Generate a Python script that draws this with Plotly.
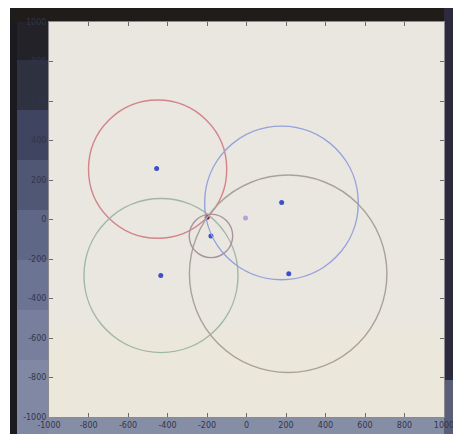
import numpy as np
import plotly.graph_objects as go

# Circle data (center x, center y, radius)
circle_names = ["red", "green", "blue", "large", "small"]
center_x = [-450, -433, 177, 211, -180]
center_y = [255, -284, 84, -275, -83]
radius = [350, 390, 389, 500, 110]
circle_colors = ["#d48488", "#a0b6a6", "#95a1dc", "#a8a29a", "#a8929e"]

# Points
point_x = [-455, -434, 178, 214, -180]
point_y = [258, -284, 86, -275, -83]
red_point = (-199, 12)
purple_point = (-5, 8)

tick_vals = [-1000, -800, -600, -400, -200, 0, 200, 400, 600, 800, 1000]
tick_text = [str(v) for v in tick_vals]

OFF = 8  # default page body margin
W, H = 461 - OFF, 434 - OFF
PL, PR, PT, PB = 49 - OFF, 444 - OFF, 22 - OFF, 417 - OFF  # plot area in figure pixels

fig = go.Figure()

# photographed monitor frame, given in pixels and converted to plot-domain fractions
def px_rect(x0, y0, x1, y1, color):
    x0, x1, y0, y1 = x0 - OFF, x1 - OFF, y0 - OFF, y1 - OFF
    fig.add_shape(type="rect", xref="paper", yref="paper",
                  x0=(x0 - PL) / (PR - PL), x1=(x1 - PL) / (PR - PL),
                  y0=(PB - y1) / (PB - PT), y1=(PB - y0) / (PB - PT),
                  fillcolor=color, line=dict(width=0), layer="below")

SW, SH = 461, 434
px_rect(10, 7, SW, SH, "#868ea6")
left_steps = [(7, 60, "#222228"), (60, 110, "#2e3140"), (110, 160, "#3f4560"),
              (160, 210, "#4f5774"), (210, 260, "#5e6786"), (260, 310, "#6b7492"),
              (310, 360, "#777f9c"), (360, 434, "#8088a3")]
for y0, y1, c in left_steps:
    px_rect(10, y0, 49, y1, c)
px_rect(10, 7, 17, SH, "#1a1a20")
px_rect(10, 7, SW, 22, "#1f1c19")
px_rect(444, 7, SW, 380, "#2c2a3c")
px_rect(444, 380, SW, SH, "#5a5f78")
# plot area (photographed screen): slightly greyer on top, warmer at the bottom
px_rect(49, 22, 444, 417, "#e9e7df")
px_rect(49, 330, 444, 417, "#ebe7da")

for cx, cy, r, col in zip(center_x, center_y, radius, circle_colors):
    fig.add_shape(type="circle", xref="x", yref="y",
                  x0=cx - r, x1=cx + r, y0=cy - r, y1=cy + r,
                  line=dict(color=col, width=1.4), layer="above")

fig.add_trace(go.Scatter(x=point_x, y=point_y, mode="markers",
                         marker=dict(color="#3d50c8", size=5), showlegend=False))
fig.add_trace(go.Scatter(x=[red_point[0]], y=[red_point[1]], mode="markers",
                         marker=dict(color="#9a1530", size=5), showlegend=False))
fig.add_trace(go.Scatter(x=[purple_point[0]], y=[purple_point[1]], mode="markers",
                         marker=dict(color="#b8a0dc", size=5), showlegend=False))

axis_common = dict(
    range=[-1000, 1000], tickvals=tick_vals, ticktext=tick_text,
    ticks="inside", ticklen=4, tickcolor="#6a6a70", mirror="ticks",
    showline=True, linecolor="#8a8a90", linewidth=1,
    showgrid=False, zeroline=False, automargin=False,
    tickfont=dict(family="DejaVu Sans", size=8, color="#33354a"),
)

fig.update_layout(
    width=W, height=H,
    margin=dict(l=PL, r=W - PR, t=PT, b=H - PB, autoexpand=False),
    paper_bgcolor="white", plot_bgcolor="#e9e7df",
    showlegend=False,
    xaxis=dict(**axis_common),
    yaxis=dict(**axis_common),
)

fig.write_html("out.html")
